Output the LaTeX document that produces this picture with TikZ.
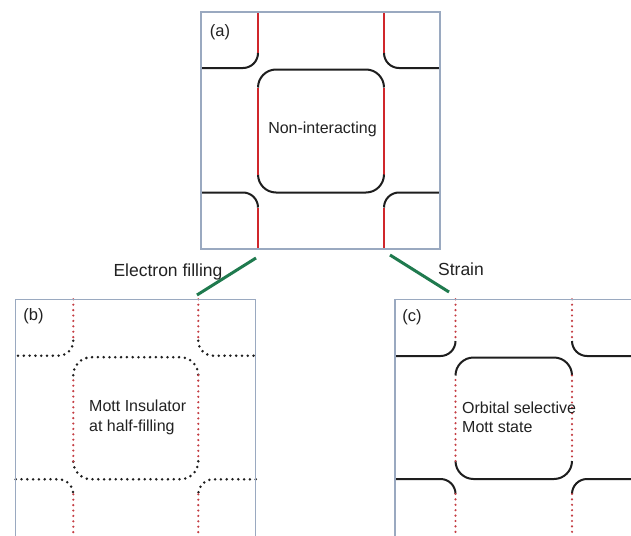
\documentclass[tikz,border=0pt]{standalone}
\usepackage{fontspec}
\setmainfont{Liberation Sans}
\definecolor{frame}{HTML}{9AA9C0}
\definecolor{fsred}{HTML}{D0262B}
\definecolor{fsdotred}{HTML}{C43C42}
\definecolor{fsblack}{HTML}{1E1E1E}
\definecolor{arrowgreen}{HTML}{1F7A4E}
\definecolor{txt}{HTML}{222222}

% Fermi-surface pockets of one panel:
% #1,#2 = x of the two vertical sheets, #3,#4 = y of the two horizontal sheets,
% #5..#8 = left, top, right, bottom of the panel frame.
% Straight vertical pieces use style vseg, everything else hseg.
\newcommand\fspockets[8]{%
  % corner pockets
  \draw[vseg] (#1,#6) -- (#1,#3-15);
  \draw[hseg] (#1,#3-15) .. controls +(0,8.3) and +(8.3,0) .. (#1-15,#3) -- (#5,#3);
  \draw[vseg] (#2,#6) -- (#2,#3-15);
  \draw[hseg] (#2,#3-15) .. controls +(0,8.3) and +(-8.3,0) .. (#2+15,#3) -- (#7,#3);
  \draw[hseg] (#5,#4) -- (#1-15,#4) .. controls +(8.3,0) and +(0,-8.3) .. (#1,#4+15);
  \draw[vseg] (#1,#4+15) -- (#1,#8);
  \draw[hseg] (#7,#4) -- (#2+15,#4) .. controls +(-8.3,0) and +(0,-8.3) .. (#2,#4+15);
  \draw[vseg] (#2,#4+15) -- (#2,#8);
  % central pocket
  \draw[hseg] (#1,#3+19.5) .. controls +(0,-9.9) and +(-9.9,0) .. (#1+18,#3+1.5)
     -- (#2-18,#3+1.5) .. controls +(9.9,0) and +(0,-9.9) .. (#2,#3+19.5);
  \draw[vseg] (#2,#3+19.5) -- (#2,#4-18);
  \draw[hseg] (#2,#4-18) .. controls +(0,9.9) and +(9.9,0) .. (#2-18,#4)
     -- (#1+18,#4) .. controls +(-9.9,0) and +(0,9.9) .. (#1,#4-18);
  \draw[vseg] (#1,#4-18) -- (#1,#3+19.5);
}

\begin{document}
\begin{tikzpicture}[x=1pt,y=-1pt,
  panelframe/.style={draw=frame,line width=1.4pt},
  solidred/.style={draw=fsred,line width=2pt},
  solidblack/.style={draw=fsblack,line width=2pt},
  dotred/.style={draw=fsdotred,line width=2.4pt,line cap=round,dash pattern=on 0pt off 5.4pt},
  dotblack/.style={draw=fsblack,line width=2.8pt,line cap=round,dash pattern=on 0pt off 5.8pt},
  tag/.style={text=txt,font=\fontsize{16.5}{19}\selectfont,inner sep=0pt},
  label/.style={text=txt,font=\fontsize{16}{19.5}\selectfont,inner sep=0pt,align=left},
  steplabel/.style={text=txt,font=\fontsize{17.5}{20}\selectfont,inner sep=0pt},
  trend/.style={draw=arrowgreen,line width=3pt}]
\useasboundingbox (0,0) rectangle (631,535);
\fill[white] (0,0) rectangle (631,535);

% (a) non-interacting
\begin{scope}[vseg/.style={solidred},hseg/.style={solidblack}]
  \fspockets{258}{384}{68}{192.5}{201}{12}{440}{249}
\end{scope}
\draw[panelframe] (201,12) rectangle (440,249);
\node[tag] (taga) at (220,32) {(a)};
\node[label] (texta) at (322.5,129) {Non-interacting};

% (b) Mott insulator
\begin{scope}[vseg/.style={dotred},hseg/.style={dotblack}]
  \fspockets{73.3}{198.3}{355.7}{479.3}{15.7}{299.3}{255.7}{536.5}
\end{scope}
\draw[panelframe] (15.7,299.3) rectangle (255.7,536.5);
\node[tag] (tagb) at (33.5,316) {(b)};
\node[label,anchor=west] (textb) at (89,417.5) {Mott Insulator\\at half-filling};

% (c) orbital selective Mott state
\begin{scope}[vseg/.style={dotred},hseg/.style={solidblack}]
  \fspockets{455.5}{572}{356}{479}{395}{299.3}{634}{536.5}
\end{scope}
\draw[panelframe] (395,299.3) rectangle (634,536.5);
\node[tag] (tagc) at (412,317) {(c)};
\node[label,anchor=west] (textc) at (462,417.5) {Orbital selective\\Mott state};

% transitions
\coordinate (fillfrom) at (256,258);
\coordinate (fillto) at (197,295);
\coordinate (strainfrom) at (390,255);
\coordinate (strainto) at (449,292);
\draw[trend] (fillfrom) -- (fillto);
\draw[trend] (strainfrom) -- (strainto);
\node[steplabel] (filllabel) at (168,272) {Electron filling};
\node[steplabel] (strainlabel) at (461,269) {Strain};
\end{tikzpicture}
\end{document}
